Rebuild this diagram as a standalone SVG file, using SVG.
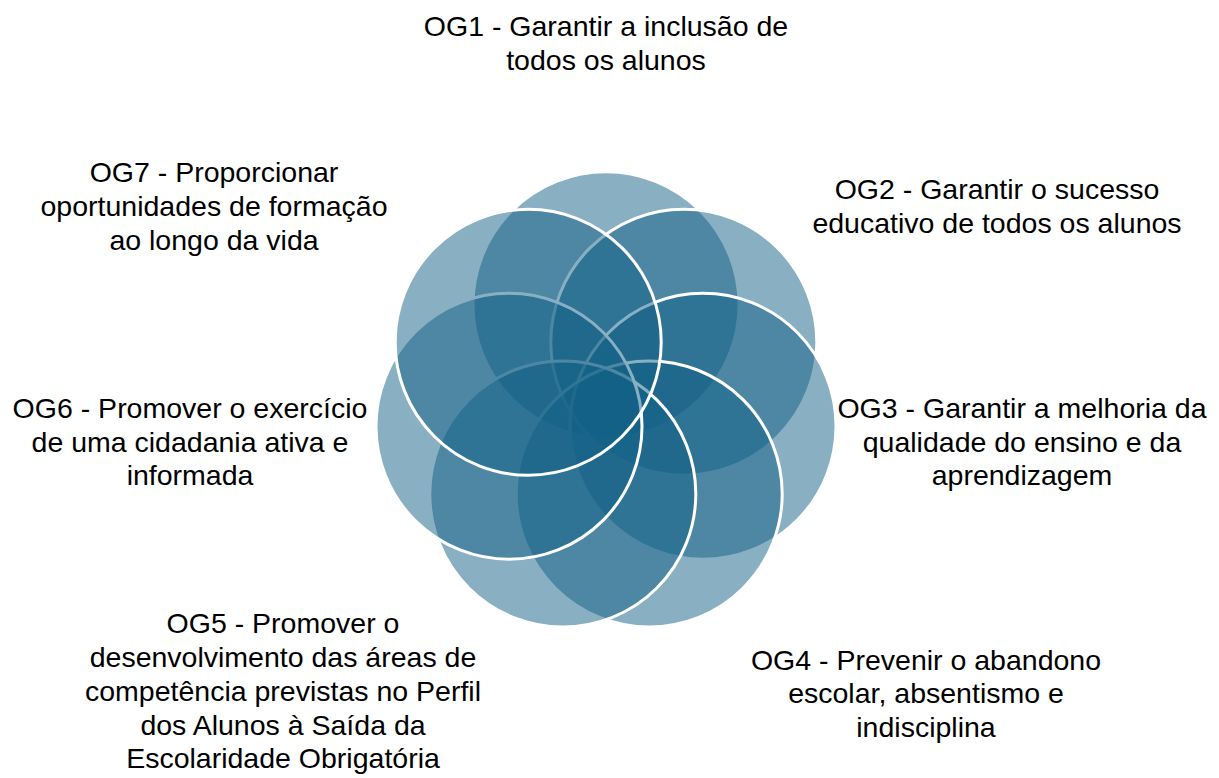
<svg xmlns="http://www.w3.org/2000/svg" width="1219" height="778" viewBox="0 0 1219 778">
<style>
.c{fill:#125f85;fill-opacity:0.5;stroke:#ffffff;stroke-width:3}
.t{font-family:"Liberation Sans",Arial,sans-serif;font-size:28.5px;fill:#000000;text-anchor:middle}
</style>
<rect width="1219" height="778" fill="#ffffff"/>
<g id="circles">
<circle id="c1" class="c" cx="606" cy="304.7" r="133"/>
<circle id="c2" class="c" cx="683.8" cy="342.2" r="133"/>
<circle id="c3" class="c" cx="703" cy="426.3" r="133"/>
<circle id="c4" class="c" cx="649.2" cy="493.9" r="133"/>
<circle id="c5" class="c" cx="562.8" cy="493.9" r="133"/>
<circle id="c6" class="c" cx="509" cy="426.3" r="133"/>
<circle id="c7" class="c" cx="528.2" cy="342.2" r="133"/>
</g>
<g id="og1"><text class="t" x="606" y="36">OG1 - Garantir a inclusão de</text><text class="t" x="606" y="70">todos os alunos</text></g>
<g id="og2"><text class="t" x="997" y="199">OG2 - Garantir o sucesso</text><text class="t" x="997" y="233">educativo de todos os alunos</text></g>
<g id="og3"><text class="t" x="1022" y="418">OG3 - Garantir a melhoria da</text><text class="t" x="1022" y="452">qualidade do ensino e da</text><text class="t" x="1022" y="485">aprendizagem</text></g>
<g id="og4"><text class="t" x="926" y="670">OG4 - Prevenir o abandono</text><text class="t" x="926" y="703">escolar, absentismo e</text><text class="t" x="926" y="737">indisciplina</text></g>
<g id="og5"><text class="t" x="283" y="633">OG5 - Promover o</text><text class="t" x="283" y="667">desenvolvimento das áreas de</text><text class="t" x="283" y="701">competência previstas no Perfil</text><text class="t" x="283" y="735">dos Alunos à Saída da</text><text class="t" x="283" y="768">Escolaridade Obrigatória</text></g>
<g id="og6"><text class="t" x="190" y="418">OG6 - Promover o exercício</text><text class="t" x="190" y="452">de uma cidadania ativa e</text><text class="t" x="190" y="485">informada</text></g>
<g id="og7"><text class="t" x="214" y="182">OG7 - Proporcionar</text><text class="t" x="214" y="216">oportunidades de formação</text><text class="t" x="214" y="250">ao longo da vida</text></g>
</svg>
